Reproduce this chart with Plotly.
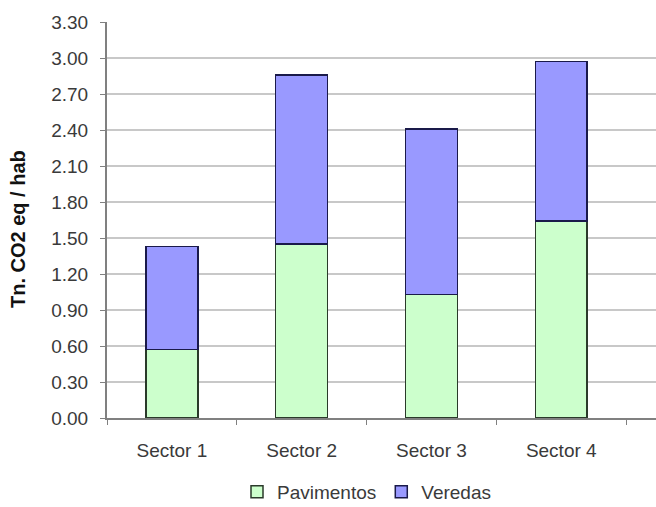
import plotly.graph_objects as go

categories = ["Sector 1", "Sector 2", "Sector 3", "Sector 4"]
pavimentos = [0.57, 1.45, 1.03, 1.64]
veredas = [0.86, 1.41, 1.38, 1.33]
y_ticks = [0.0, 0.3, 0.6, 0.9, 1.2, 1.5, 1.8, 2.1, 2.4, 2.7, 3.0, 3.3]

W, H = 656, 507
L, R, T, B = 107, 0, 22, 89
FAM = "Liberation Sans, Arial, sans-serif"

fig = go.Figure()
fig.add_trace(go.Bar(
    x=categories, y=pavimentos, name="Pavimentos", width=0.4,
    marker=dict(color="#CCFFCC", line=dict(color="#2a3a2a", width=1.5)),
))
fig.add_trace(go.Bar(
    x=categories, y=veredas, name="Veredas", width=0.4,
    marker=dict(color="#9999FF", line=dict(color="#1a1a4a", width=1.5)),
))

fig.update_layout(
    barmode="stack",
    width=W, height=H,
    margin=dict(l=L, r=R, t=T, b=B, pad=0, autoexpand=False),
    paper_bgcolor="white", plot_bgcolor="white",
    font=dict(family=FAM, size=19, color="#3a3a3a"),
    showlegend=True,
    legend=dict(orientation="h", traceorder="normal",
                x=(367 - L) / (W - L - R), xanchor="center",
                y=(418 - 492) / (418 - T), yanchor="middle",
                font=dict(family=FAM, size=19, color="#3a3a3a"),
                itemwidth=30, tracegroupgap=0),
    xaxis=dict(
        type="category", range=[-0.5, 3.73],
        showline=True, linecolor="#808080", linewidth=2,
        ticks="outside", ticklen=5, tickcolor="#808080", tickson="boundaries",
        ticklabelstandoff=14, automargin=False,
        showgrid=False, zeroline=False, fixedrange=True,
    ),
    yaxis=dict(
        range=[0, 3.3], tickvals=y_ticks,
        ticktext=[f"{v:.2f}" for v in y_ticks],
        showline=True, linecolor="#808080", linewidth=2,
        ticks="outside", ticklen=5, tickcolor="#808080",
        ticklabelstandoff=8, automargin=False,
        showgrid=True, gridcolor="#C8C8C8", gridwidth=1.5,
        zeroline=False, fixedrange=True,
    ),
    annotations=[dict(
        text="<b>Tn. CO2 eq / hab</b>", textangle=-90,
        xref="paper", yref="paper", x=(18 - L) / (W - L - R), y=(418 - 229) / (418 - T),
        xanchor="center", yanchor="middle", showarrow=False,
        font=dict(family=FAM, size=20, color="#111111"),
    )],
)

fig.write_html("out.html")
